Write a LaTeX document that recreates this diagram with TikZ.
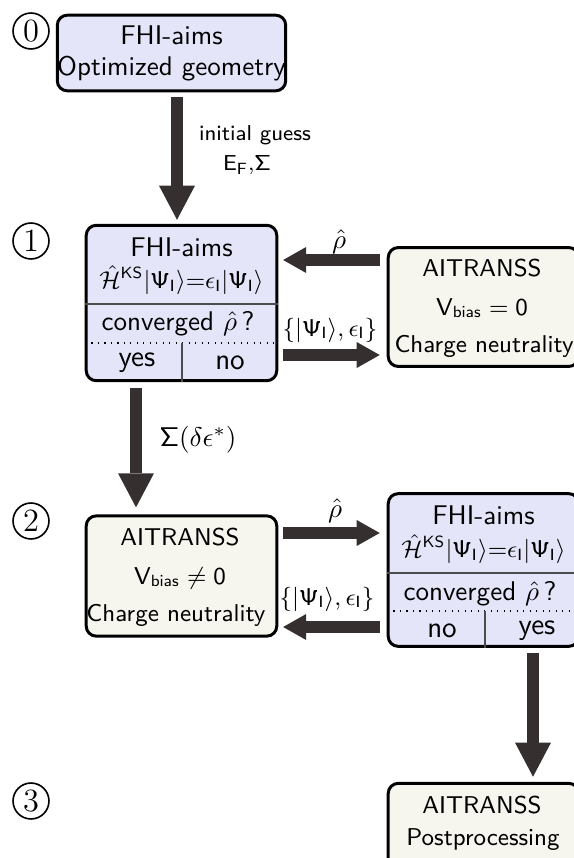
\documentclass[tikz,border=0pt]{standalone}
\usepackage{amsmath}
\usepackage{amssymb}
\usetikzlibrary{arrows.meta}

\definecolor{aimsblue}{RGB}{229,229,250}
\definecolor{transbeige}{RGB}{246,246,238}
\definecolor{flowgray}{RGB}{54,47,47}

\tikzset{
  box/.style={draw, line width=1.1pt, rounded corners=3.7pt, minimum width=70.5pt, inner sep=0pt},
  aims/.style={box, fill=aimsblue},
  trans/.style={box, fill=transbeige},
  transtext/.style={font=\sffamily\small},
  answer/.style={font=\sffamily\fontsize{11}{13}\selectfont},
  flow/.style={color=flowgray, line width=4.6pt, -{Triangle[width=13.3pt, length=12.6pt, line width=0pt]}},
  flowh/.style={color=flowgray, line width=4.6pt, -{Triangle[width=9.6pt, length=8.5pt, line width=0pt]}},
  stage/.style={circle, draw, line width=0.6pt, minimum size=13.3pt, inner sep=0pt, font=\rmfamily\large},
  split/.style={line width=0.4pt, black!70},
}

\begin{document}
\begin{tikzpicture}[x=0.37pt, y=-0.37pt, font=\sffamily, inner sep=0.5pt]
\useasboundingbox (0,0) rectangle (574,858);

\node[stage] (s0) at (31,31) {0};
\node[stage] (s1) at (31,241) {1};
\node[stage] (s2) at (31,521) {2};
\node[stage] (s3) at (31,801) {3};

\node[aims, minimum width=84.5pt, minimum height=28pt] (geo) at (171.5,53) {};
\node (geoT) at (171.5,35) {FHI-aims};
\node (geoB) at (171.5,69) {Optimized geometry};

\node[aims, minimum height=57.5pt] (scf) at (181.5,303) {};
\node (scfT) at (181.5,247) {FHI-aims};
\node[font=\small] (scfE) at (181.5,280) {$\hat{\mathcal{H}}^{\mathsf{KS}}|\mathsf{\Psi_I}\rangle{=}\epsilon_{\mathsf{I}}|\mathsf{\Psi_I}\rangle$};
\node (scfQ) at (178,324) {converged $\hat{\rho}$\,?};
\node[answer] (scfY) at (137,363) {yes};
\node[answer] (scfN) at (230,363) {no};
\draw[split] (85,304) -- (278,304);
\draw[dotted, line width=0.4pt] (85,343) -- (278,343);
\draw[split] (182,343) -- (182,382);

\node[trans, minimum height=44pt] (zero) at (483.5,307) {};
\node[transtext] (zeroT) at (482,268) {AITRANSS};
\node[transtext] (zeroV) at (482,308) {$\mathsf{V_{bias}}=\mathsf{0}$};
\node[transtext] (zeroC) at (484,346) {Charge neutrality};

\node[trans, minimum height=44.5pt] (bias) at (181.5,576) {};
\node[transtext] (biasT) at (180,537) {AITRANSS};
\node[transtext] (biasV) at (180,578) {$\mathsf{V_{bias}}\neq\mathsf{0}$};
\node[transtext] (biasC) at (176,615) {Charge neutrality};

\node[aims, minimum height=56.5pt] (scfb) at (483.5,570) {};
\node (scfbT) at (483.5,515) {FHI-aims};
\node[font=\small] (scfbE) at (483.5,549) {$\hat{\mathcal{H}}^{\mathsf{KS}}|\mathsf{\Psi_I}\rangle{=}\epsilon_{\mathsf{I}}|\mathsf{\Psi_I}\rangle$};
\node (scfbQ) at (480,594) {converged $\hat{\rho}$\,?};
\node[answer] (scfbN) at (442,631) {no};
\node[answer] (scfbY) at (537,631) {yes};
\draw[split] (387,573) -- (580,573);
\draw[dotted, line width=0.4pt] (387,611) -- (580,611);
\draw[split] (485,611) -- (485,648);

\node[trans, minimum height=36pt] (post) at (483.5,832) {};
\node[transtext] (postT) at (482,805) {AITRANSS};
\node[transtext] (postP) at (483,840) {Postprocessing};

\draw[flow, shorten <=1.9pt, shorten >=1.5pt] (177,0 |- geo.south) -- (177,0 |- scf.north);
\draw[flow, shorten <=2.2pt, shorten >=2.6pt] (136,0 |- scf.south) -- (136,0 |- bias.north);
\draw[flow, shorten <=1.9pt, shorten >=1.9pt] (533,0 |- scfb.south) -- (533,0 |- post.north);

\draw[flowh, shorten <=2.6pt, shorten >=1.8pt] (zero.west |- 0,260) -- (scf.east |- 0,260);
\draw[flowh, shorten <=1.8pt, shorten >=2.6pt] (scf.east |- 0,355) -- (zero.west |- 0,355);
\draw[flowh, shorten <=1.8pt, shorten >=2.6pt] (bias.east |- 0,533) -- (scfb.west |- 0,533);
\draw[flowh, shorten <=2.6pt, shorten >=1.8pt] (scfb.west |- 0,627) -- (bias.east |- 0,627);

\node[font=\sffamily\footnotesize] (guess) at (255,135) {initial guess};
\node[font=\sffamily\footnotesize] (guessE) at (247,165) {$\mathsf{E_F}{,}\mathsf{\Sigma}$};
\node (shift) at (198,440) {$\mathsf{\Sigma}(\delta\epsilon^{*})$};
\node (rhoA) at (339,242) {$\hat{\rho}$};
\node[font=\small] (psiA) at (330,330) {$\{|\mathsf{\Psi_I}\rangle,\epsilon_{\mathsf{I}}\}$};
\node (rhoB) at (335,511) {$\hat{\rho}$};
\node[font=\small] (psiB) at (327,599) {$\{|\mathsf{\Psi_I}\rangle,\epsilon_{\mathsf{I}}\}$};
\end{tikzpicture}
\end{document}
